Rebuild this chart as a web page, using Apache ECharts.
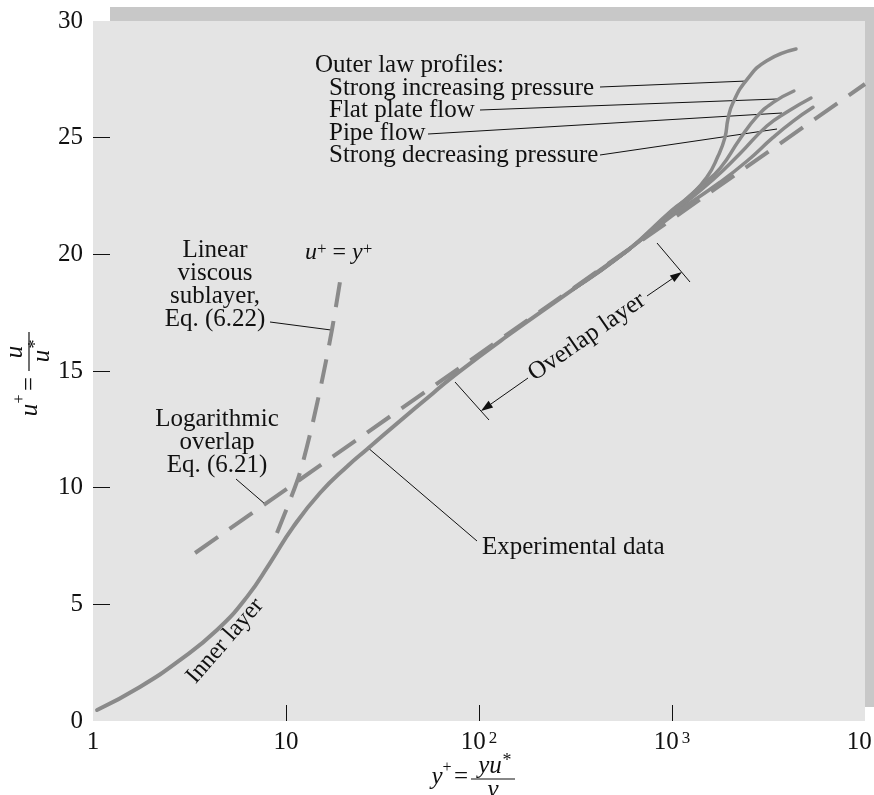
<!DOCTYPE html>
<html>
<head>
<meta charset="utf-8">
<script src="https://cdn.jsdelivr.net/npm/echarts@6/dist/echarts.min.js"></script>
<style>
html, body { margin: 0; padding: 0; background: #fff; }
#main { width: 874px; height: 795px; }
</style>
</head>
<body>
<div id="main"></div>
<script>
// velocity profile of a turbulent wall flow: u+ against log y+
var xTickValues = [1, 10, 100, 1000, 10000];
var xTickLabels = ['1', '10', '10^2', '10^3', '10^4'];
var yTickValues = [0, 5, 10, 15, 20, 25, 30];
var yTickLabels = ['0', '5', '10', '15', '20', '25', '30'];

// [y+, u+]
var experimental = [[1.05, 0.47], [1.75, 1.46], [2.82, 2.61], [4.39, 3.9], [6.28, 5.32], [8.26, 6.77],
    [10.9, 8.32], [15.0, 9.77], [21.0, 10.95], [26.3, 11.65], [37.6, 12.75], [57.8, 14.05], [77, 14.9],
    [140, 16.5], [307, 18.5], [585, 20.15]];
var strongIncreasing = [[307, 18.5], [585, 20.15], [1000, 21.9], [1240, 22.5], [1515, 23.3], [1730, 24.2],
    [1880, 25.0], [1950, 25.8], [2070, 26.5], [2450, 27.5], [3100, 28.3], [4390, 28.8]];
var flatPlate = [[307, 18.5], [585, 20.15], [1000, 21.85], [1400, 22.9], [1780, 23.7], [2230, 24.9],
    [2750, 25.9], [3330, 26.5], [4280, 27.0]];
var pipeFlow = [[307, 18.5], [585, 20.15], [1000, 21.75], [1630, 23.2], [2240, 24.3], [3100, 25.5],
    [3940, 26.1], [5250, 26.7]];
var strongDecreasing = [[307, 18.5], [585, 20.15], [1000, 21.65], [1780, 23.1], [2450, 24.0], [3330, 25.0],
    [4230, 25.7], [5380, 26.3]];
var linearSublayer = [[8.98, 8.06], [10.5, 9.47], [11.8, 10.63], [13.6, 12.6], [15.5, 14.74], [17.3, 16.76], [19.3, 19.12]];
var logOverlap = [[3.38, 7.2], [10000, 27.3]];

var FONT = '"Liberation Serif", "DejaVu Serif", serif';
var CURVE = '#8a8a8a';
var INK = '#111';

var G = { left: 93, top: 21, right: 865, bottom: 721 };

function curve(name, data, width) {
    return {
        name: name, type: 'line', data: data, smooth: true, symbol: 'none', silent: true,
        lineStyle: { color: CURVE, width: width || 4, cap: 'round' }
    };
}
function dashed(name, data, dash, smooth) {
    return {
        name: name, type: 'line', data: data, symbol: 'none', silent: true, smooth: smooth || false,
        lineStyle: { color: CURVE, width: 4, type: dash }
    };
}
function txt(s, x, y, opt) {
    opt = opt || {};
    return {
        type: 'text', x: x, y: y, rotation: opt.rot || 0, silent: true,
        style: {
            text: s, fill: INK, font: (opt.style || '') + ' ' + (opt.size || 25) + 'px ' + FONT,
            align: opt.align || 'left', verticalAlign: 'middle', lineHeight: opt.lh || 23,
            rich: opt.rich
        }
    };
}
function seg(x1, y1, x2, y2, w) {
    return { type: 'line', silent: true, shape: { x1: x1, y1: y1, x2: x2, y2: y2 },
        style: { stroke: INK, lineWidth: w || 1 } };
}
function arrow(x1, y1, x2, y2) {
    var dx = x2 - x1, dy = y2 - y1, L = Math.sqrt(dx * dx + dy * dy);
    var ux = dx / L, uy = dy / L, bx = x2 - 12 * ux, by = y2 - 12 * uy;
    return [seg(x1, y1, bx, by), {
        type: 'polygon', silent: true,
        shape: { points: [[x2, y2], [bx - 4 * uy, by + 4 * ux], [bx + 4 * uy, by - 4 * ux]] },
        style: { fill: INK }
    }];
}

var supRich = {
    i: { fontStyle: 'italic', fontSize: 24, fontFamily: FONT, fill: INK },
    s: { fontSize: 17, fontFamily: FONT, verticalAlign: 'top', lineHeight: 24, fill: INK },
    n: { fontSize: 24, fontFamily: FONT, fill: INK }
};

var graphics = [
    { type: 'rect', silent: true, z: -100, shape: { x: G.left + 17, y: G.top - 14, width: G.right - G.left, height: G.bottom - G.top },
      style: { fill: '#c8c8c8' } },
    { type: 'rect', silent: true, z: -99, shape: { x: G.left, y: G.top, width: G.right - G.left, height: G.bottom - G.top },
      style: { fill: '#e4e4e4' } },

    txt('Outer law profiles:', 315, 65),
    txt('Strong increasing pressure', 329, 88),
    txt('Flat plate flow', 329, 110),
    txt('Pipe flow', 329, 133),
    txt('Strong decreasing pressure', 329, 155),
    seg(600, 87, 747, 81), seg(480, 110, 777, 99), seg(428, 134, 782, 113), seg(600, 155, 777, 129),

    txt('Linear\nviscous\nsublayer,\nEq. (6.22)', 215, 285, { align: 'center' }),
    seg(270, 322, 331, 330),
    txt('{i|u}{s|+}{n| = }{i|y}{s|+}', 305, 253, { rich: supRich }),

    txt('Logarithmic\noverlap\nEq. (6.21)', 217, 442, { align: 'center' }),
    seg(236, 479, 265, 504),

    txt('Experimental data', 482, 547),
    seg(367, 447, 477, 541),

    txt('Overlap layer', 587, 337, { align: 'center', rot: 0.606 }),
    seg(455, 382, 489, 420), seg(657, 243, 690, 282),

    txt('Inner layer', 225, 641, { align: 'center', rot: 0.855, size: 24 }),

    // x axis title  y+ = yu*/nu
    txt('y', 437, 777, { style: 'italic', align: 'center' }),
    txt('+', 447, 768, { size: 16, align: 'center' }),
    txt('=', 461, 777, { align: 'center' }),
    txt('yu', 490, 766, { style: 'italic', align: 'center' }),
    txt('*', 507, 761, { size: 18, align: 'center' }),
    seg(471, 779, 515, 779, 1.2),
    txt('\u03bd', 493, 790, { style: 'italic', align: 'center' }),

    // y axis title  u+ = u/u*, reading upwards
    { type: 'group', x: 28, y: 376, rotation: Math.PI / 2, silent: true, children: [
        txt('u', -34, 2, { style: 'italic', align: 'center' }),
        txt('+', -23, -8, { size: 16, align: 'center' }),
        txt('=', -8, 2, { align: 'center' }),
        txt('u', 24, -13, { style: 'italic', align: 'center' }),
        seg(5, 1, 44, 1, 1.2),
        txt('u', 20, 14, { style: 'italic', align: 'center' }),
        txt('*', 32, 8, { size: 18, align: 'center' })
    ] }
].concat(arrow(528, 378, 481, 411), arrow(647, 296, 682, 272));

var myChart = echarts.init(document.getElementById('main'));

var option = {
    animation: false,
    grid: {
        left: G.left, top: G.top, right: 874 - G.right, bottom: 795 - G.bottom,
        containLabel: false, outerBoundsMode: 'none'
    },
    xAxis: {
        type: 'log', logBase: 10, min: 1, max: 10000,
        axisLine: { show: false },
        splitLine: { show: false },
        axisTick: { inside: true, length: 16, customValues: [10, 100, 1000], lineStyle: { color: INK, width: 1 } },
        axisLabel: {
            customValues: xTickValues, margin: 9, color: INK, fontFamily: FONT, fontSize: 25,
            hideOverlap: false,
            formatter: function (v) {
                var s = xTickLabels[xTickValues.indexOf(v)] || '';
                var p = s.split('^');
                return p.length > 1 ? p[0] + '{s|' + p[1] + '}' : s;
            },
            rich: { s: { fontSize: 17, fontFamily: FONT, color: INK, verticalAlign: 'top', lineHeight: 25, padding: [0, 0, 0, 3] } }
        }
    },
    yAxis: {
        type: 'value', min: 0, max: 30, interval: 5,
        axisLine: { show: false },
        splitLine: { show: false },
        axisTick: { inside: true, length: 17, customValues: [5, 10, 15, 20, 25], lineStyle: { color: INK, width: 1 } },
        axisLabel: {
            customValues: yTickValues, margin: 10, color: INK, fontFamily: FONT, fontSize: 25,
            formatter: function (v) { return yTickLabels[yTickValues.indexOf(v)]; }
        }
    },
    graphic: { elements: graphics },
    series: [
        dashed('Logarithmic overlap', logOverlap, [28, 14]),
        dashed('Linear viscous sublayer', linearSublayer, [25, 14], 0.3),
        curve('Experimental data', experimental, 4),
        curve('Strong increasing pressure', strongIncreasing, 3.5),
        curve('Flat plate flow', flatPlate, 3.5),
        curve('Pipe flow', pipeFlow, 3.5),
        curve('Strong decreasing pressure', strongDecreasing, 3.5)
    ]
};

myChart.setOption(option);
</script>
</body>
</html>
